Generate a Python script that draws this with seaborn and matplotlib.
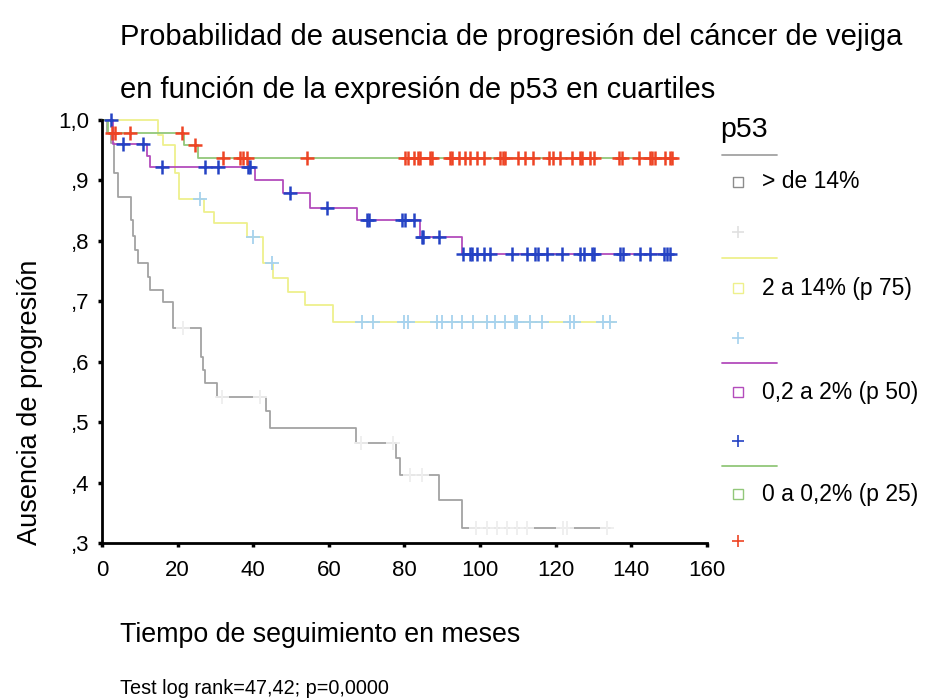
import numpy as np
import pandas as pd
import matplotlib
matplotlib.use("Agg")
import matplotlib.pyplot as plt
from matplotlib.lines import Line2D
import seaborn as sns

sns.set_style("ticks")
plt.rcParams['font.family'] = ['Liberation Sans', 'DejaVu Sans']
plt.rcParams['text.color'] = 'black'
plt.rcParams['xtick.color'] = 'black'
plt.rcParams['ytick.color'] = 'black'

# ---------------- data ----------------
group_labels = ["> de 14%", "2 a 14% (p 75)", "0,2 a 2% (p 50)", "0 a 0,2% (p 25)"]

gray_t = [0, 1.3, 2.5, 3.2, 4.3, 7.6, 8.3, 8.7, 9.6, 12.2, 12.7, 16.2, 18.9, 26.2, 26.7,
          27.3, 30.3, 43.5, 44.3, 67.3, 77.8, 78.8, 89.0, 95.3]
gray_s = [1.0, 0.978, 0.962, 0.912, 0.873, 0.835, 0.808, 0.785, 0.763, 0.740, 0.718, 0.699,
          0.655, 0.608, 0.586, 0.564, 0.542, 0.518, 0.490, 0.465, 0.440, 0.412, 0.371, 0.325]
gray_end = 134.4
gray_cens = [21.4, 31.7, 41.8, 68.5, 77.0, 81.5, 84.7, 99.0, 101.8, 104.4, 107.0, 109.7,
             112.4, 122.0, 123.0, 133.5]

yellow_t = [0, 14.9, 16.2, 19.3, 20.3, 27.0, 29.7, 38.3, 42.7, 45.3, 49.3, 53.7, 61.2]
yellow_s = [1.0, 0.975, 0.958, 0.913, 0.870, 0.848, 0.829, 0.806, 0.763, 0.738, 0.716,
            0.694, 0.666]
yellow_end = 135.5
yellow_cens = [25.9, 40.0, 44.9, 68.8, 71.7, 80.0, 80.8, 88.5, 89.9, 92.5, 95.2, 98.2, 101.8,
               104.0, 106.6, 109.3, 109.7, 113.2, 116.3, 123.8, 124.7, 132.6, 134.4]

purple_t = [0, 3.0, 12.0, 12.6, 40.5, 48.0, 55.0, 67.4, 84.1, 95.2]
purple_s = [1.0, 0.961, 0.940, 0.923, 0.901, 0.879, 0.855, 0.834, 0.807, 0.778]
purple_end = 150.5
purple_cens = [2.5, 5.6, 10.9, 15.8, 27.2, 30.8, 38.7, 39.2, 49.7, 59.4, 70.0, 70.5, 79.3,
               80.2, 82.4, 84.6, 85.0, 89.2, 95.6, 97.4, 97.8, 99.1, 100.9, 102.6, 108.4,
               112.3, 114.5, 115.4, 117.6, 121.6, 126.5, 127.4, 129.5, 130.0, 137.0, 137.9,
               142.3, 145.0, 148.5, 149.4, 150.2]

green_t = [0, 1.5, 21.8, 25.5]
green_s = [1.0, 0.978, 0.959, 0.937]
green_end = 151.0
green_cens = [2.6, 3.4, 7.4, 21.1, 24.6, 32.1, 36.5, 37.4, 38.4, 54.1, 80.2, 81.0, 82.4,
              83.7, 84.1, 86.8, 87.2, 92.1, 92.5, 94.3, 96.0, 97.4, 99.1, 100.9, 105.3,
              106.1, 106.6, 110.1, 111.9, 114.1, 118.1, 119.4, 121.2, 124.3, 126.5, 126.9,
              129.1, 130.0, 136.6, 137.5, 141.9, 145.0, 145.4, 146.3, 148.9, 150.3, 150.7]

x_ticks = [0, 20, 40, 60, 80, 100, 120, 140, 160]
y_ticks = [0.3, 0.4, 0.5, 0.6, 0.7, 0.8, 0.9, 1.0]
y_tick_labels = [",3", ",4", ",5", ",6", ",7", ",8", ",9", "1,0"]

line_colors = ["#a3a3a3", "#eef08c", "#b34cbc", "#92c77a"]
cens_colors = ["#eeeeee", "#a6d2ee", "#2442c4", "#ee4424"]

series = [
    (gray_t, gray_s, gray_end, gray_cens),
    (yellow_t, yellow_s, yellow_end, yellow_cens),
    (purple_t, purple_s, purple_end, purple_cens),
    (green_t, green_s, green_end, green_cens),
]

# ---------------- figure ----------------
fig = plt.figure(figsize=(9.28, 6.98), dpi=100)
ax = fig.add_axes([102 / 928, 155 / 698, 605 / 928, 423 / 698])

cens_lw = [1.3, 1.3, 1.8, 1.8]
for i, (t, s, t_end, cens) in enumerate(series):
    tt = list(t) + [t_end]
    ss = list(s) + [s[-1]]
    df = pd.DataFrame({"t": tt, "s": ss})
    sns.lineplot(data=df, x="t", y="s", ax=ax, drawstyle="steps-post", color=line_colors[i],
                 lw=1.3, estimator=None, sort=False, clip_on=False)
    idx = np.searchsorted(np.asarray(t), np.asarray(cens), side="right") - 1
    cdf = pd.DataFrame({"t": cens, "s": np.asarray(s)[idx]})
    sns.scatterplot(data=cdf, x="t", y="s", ax=ax, marker="+", s=95, color=cens_colors[i],
                    linewidth=cens_lw[i], clip_on=False, zorder=3)

ax.set_xlim(0, 160)
ax.set_ylim(0.3, 1.0)
ax.set_xticks(x_ticks)
ax.set_xticklabels([str(v) for v in x_ticks])
ax.set_yticks(y_ticks)
ax.set_yticklabels(y_tick_labels)
ax.tick_params(direction="out", length=3, width=2.5, labelsize=16, colors="black")
ax.tick_params(axis="x", pad=9)
ax.tick_params(axis="y", pad=6)
for side in ["top", "right"]:
    ax.spines[side].set_visible(False)
for side in ["left", "bottom"]:
    ax.spines[side].set_linewidth(2)
    ax.spines[side].set_color("black")
ax.set_xlabel("")
ax.set_ylabel("")

# titles and labels
fig.text(120 / 928, 1 - 37 / 698, "Probabilidad de ausencia de progresión del cáncer de vejiga",
         fontsize=21, va="center", ha="left", color="black")
fig.text(120 / 928, 1 - 90 / 698, "en función de la expresión de p53 en cuartiles",
         fontsize=21, va="center", ha="left", color="black")
fig.text(30 / 928, 1 - 402 / 698, "Ausencia de progresión", fontsize=19.5, rotation=90,
         va="center", ha="center", color="black")
fig.text(120 / 928, 1 - 635 / 698, "Tiempo de seguimiento en meses", fontsize=19.3,
         va="center", ha="left", color="black")
fig.text(120 / 928, 1 - 688 / 698, "Test log rank=47,42; p=0,0000", fontsize=14.3,
         va="center", ha="left", color="black")

# legend (drawn manually, SPSS style)
fig.text(720 / 928, 1 - 130 / 698, "p53", fontsize=20.5, va="center", ha="left", color="black")
row_line = [155, 258, 363, 466]
row_box = [182, 288, 392, 494]
row_plus = [232, 338, 441, 541]
for i in range(4):
    yl = 1 - row_line[i] / 698
    fig.add_artist(Line2D([722 / 928, 777 / 928], [yl, yl], color=line_colors[i], lw=1.3))
    yb = 1 - row_box[i] / 698
    fig.add_artist(Line2D([738 / 928], [yb], marker="s", markersize=6.5, markerfacecolor="white",
                          markeredgecolor=line_colors[i] if i != 0 else "#8c8c8c",
                          markeredgewidth=1, linestyle="none"))
    fig.text(762 / 928, yb, group_labels[i], fontsize=16.5, va="center", ha="left",
             color="black")
    yp = 1 - row_plus[i] / 698
    fig.add_artist(Line2D([738 / 928], [yp], marker="+", markersize=9,
                          markeredgecolor=cens_colors[i] if i != 0 else "#e0e0e0",
                          markeredgewidth=1.2, linestyle="none"))

fig.savefig("out.png", dpi=100)
